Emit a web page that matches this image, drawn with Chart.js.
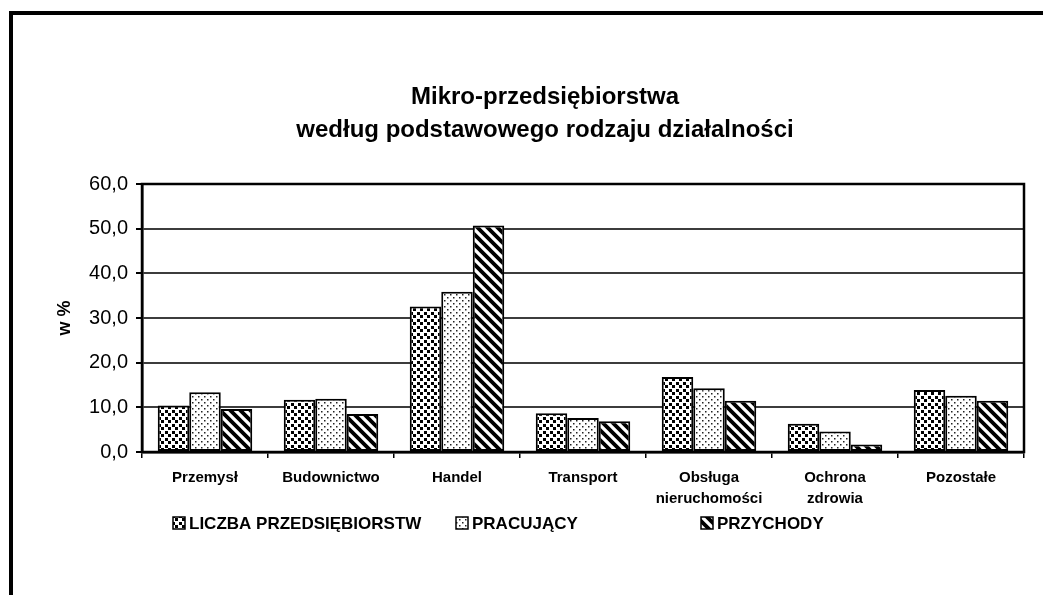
<!DOCTYPE html>
<html lang="pl">
<head>
<meta charset="UTF-8">
<title>Mikro-przedsiębiorstwa według podstawowego rodzaju działalności</title>
<script src="https://cdn.jsdelivr.net/npm/chart.js"></script>
<style>
  html, body { margin: 0; padding: 0; background: #fff; }
  #wrap { width: 1043px; height: 595px; }
</style>
</head>
<body>
<div id="wrap"><canvas id="dataChart"></canvas></div>
<script>
    // data (percent)
    const categories = ['Przemysł', 'Budownictwo', 'Handel', 'Transport',
        ['Obsługa', 'nieruchomości'], ['Ochrona', 'zdrowia'], 'Pozostałe'];
    const liczba = [10.4, 11.7, 32.6, 8.7, 16.8, 6.3, 13.9];
    const pracujacy = [13.4, 11.9, 35.9, 7.6, 14.3, 4.6, 12.6];
    const przychody = [9.6, 8.5, 50.7, 6.9, 11.5, 1.7, 11.5];
    const seriesNames = ['LICZBA PRZEDSIĘBIORSTW', 'PRACUJĄCY', 'PRZYCHODY'];
    const titleLines = ['Mikro-przedsiębiorstwa', 'według podstawowego rodzaju działalności'];
    const yTitle = 'w %';

    const FONT = 'Arial, "Liberation Sans", sans-serif';
    Chart.defaults.font.family = FONT;
    Chart.defaults.color = '#000';

    // black & white fill patterns like the old Excel chart
    function makePattern(kind) {
        const c = document.createElement('canvas');
        const g = c.getContext('2d');
        if (kind === 'squares') {
            c.width = c.height = 7;
            g.fillStyle = '#fff'; g.fillRect(0, 0, 7, 7);
            g.fillStyle = '#000';
            g.fillRect(0, 0, 3, 3);
            g.fillRect(4, 4, 3, 3);
        } else if (kind === 'dots') {
            c.width = c.height = 6;
            g.fillStyle = '#fff'; g.fillRect(0, 0, 6, 6);
            g.fillStyle = '#222';
            g.fillRect(0, 0, 1.5, 1.5);
            g.fillRect(3, 3, 1.5, 1.5);
        } else {
            c.width = c.height = 10;
            g.fillStyle = '#fff'; g.fillRect(0, 0, 10, 10);
            g.strokeStyle = '#000';
            g.lineWidth = 3.8;
            g.beginPath();
            g.moveTo(-5, -5); g.lineTo(15, 15);
            g.moveTo(-5, 5); g.lineTo(5, 15);
            g.moveTo(5, -5); g.lineTo(15, 5);
            g.stroke();
        }
        return g.createPattern(c, 'repeat');
    }
    const fills = [makePattern('squares'), makePattern('dots'), makePattern('stripes')];

    // outer frame, title, box around the plot and the legend row
    const titleCenter = 545;
    const legendX = [173, 456, 701];
    const framePlugin = {
        id: 'frame',
        afterDraw(chart) {
            const { ctx, chartArea: a, width, height } = chart;
            ctx.save();
            ctx.strokeStyle = '#000';
            ctx.lineWidth = 2.5;
            ctx.strokeRect(a.left, a.top, a.right - a.left, a.bottom - a.top);

            ctx.lineWidth = 4;
            ctx.beginPath();
            ctx.moveTo(11, height);
            ctx.lineTo(11, 13);
            ctx.lineTo(width, 13);
            ctx.stroke();

            ctx.fillStyle = '#000';
            ctx.font = 'bold 24px ' + FONT;
            ctx.textAlign = 'center';
            ctx.textBaseline = 'middle';
            titleLines.forEach((t, i) => ctx.fillText(t, titleCenter, a.top - 87 + i * 33));

            const y = a.bottom + 71;
            ctx.font = 'bold 17px ' + FONT;
            ctx.textAlign = 'left';
            seriesNames.forEach((name, i) => {
                const x = legendX[i];
                ctx.fillStyle = fills[i];
                ctx.fillRect(x, y - 6, 12, 12);
                ctx.lineWidth = 1.5;
                ctx.strokeRect(x, y - 6, 12, 12);
                ctx.fillStyle = '#000';
                ctx.fillText(name, x + 16, y + 1);
            });
            ctx.restore();
        }
    };

    function barSet(label, data, i) {
        return {
            label: label,
            data: data,
            backgroundColor: fills[i],
            borderColor: '#000',
            borderWidth: 2,
            borderSkipped: false,
            barPercentage: 1,
            categoryPercentage: 0.75
        };
    }

    const ctx = document.getElementById('dataChart').getContext('2d');
    new Chart(ctx, {
        type: 'bar',
        data: {
            labels: categories,
            datasets: [
                barSet(seriesNames[0], liczba, 0),
                barSet(seriesNames[1], pracujacy, 1),
                barSet(seriesNames[2], przychody, 2)
            ]
        },
        plugins: [framePlugin],
        options: {
            responsive: true,
            maintainAspectRatio: false,
            animation: false,
            devicePixelRatio: 1,
            layout: { padding: { top: 184, left: 0, right: 19, bottom: 83 } },
            plugins: {
                legend: { display: false },
                tooltip: { enabled: false },
                title: { display: false }
            },
            scales: {
                x: {
                    afterFit: s => { s.height = 60; },
                    grid: { drawOnChartArea: false, tickLength: 6, tickColor: '#000', lineWidth: 1.5 },
                    border: { color: '#000', width: 2.5 },
                    ticks: {
                        font: { size: 15, weight: 'bold', lineHeight: 1.4 },
                        padding: 9,
                        maxRotation: 0,
                        autoSkip: false
                    }
                },
                y: {
                    min: 0,
                    max: 60,
                    afterFit: s => { s.width = 142; },
                    grid: { color: '#3c3c3c', lineWidth: 2, tickLength: 6, tickColor: '#000' },
                    border: { color: '#000', width: 2.5 },
                    ticks: {
                        stepSize: 10,
                        font: { size: 20 },
                        padding: 8,
                        callback: v => v.toFixed(1).replace('.', ',')
                    },
                    title: {
                        display: true,
                        text: yTitle,
                        font: { size: 18, weight: 'bold' },
                        padding: { top: 54, bottom: 0 }
                    }
                }
            }
        }
    });
</script>
</body>
</html>
